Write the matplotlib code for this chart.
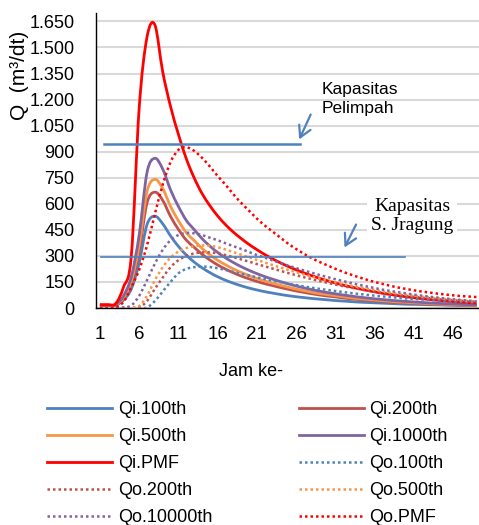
import matplotlib
matplotlib.use('Agg')
import matplotlib.pyplot as plt
from matplotlib.path import Path
from matplotlib.patches import PathPatch
from matplotlib.lines import Line2D
from matplotlib.ticker import FuncFormatter

plt.rcParams['font.family'] = ['Liberation Sans', 'DejaVu Sans']

# hours 1..49
jam = list(range(1, 50))

qi_100 = [15, 15, 16, 45, 110, 260, 480, 529, 485, 415, 355, 305, 265, 232, 204, 180, 160, 143,
          128, 115, 104, 94, 86, 78, 71, 65, 60, 55, 51, 47, 43, 40, 37, 34, 32, 30, 28, 26, 24,
          22, 21, 20, 19, 18, 17, 16, 15, 14, 13]
qi_200 = [15, 15, 17, 55, 140, 325, 605, 667, 620, 527, 453, 391, 350, 310, 277, 248, 224, 203,
          184, 168, 153, 140, 129, 118, 108, 98, 90, 82, 75, 69, 64, 58, 53, 49, 45, 41, 38, 35,
          32, 29, 27, 25, 22, 21, 19, 18, 16, 15, 14]
qi_500 = [15, 15, 18, 60, 155, 360, 670, 741, 688, 585, 503, 434, 389, 344, 307, 275, 249, 225,
          205, 187, 170, 156, 143, 131, 120, 109, 100, 91, 83, 77, 71, 65, 59, 54, 50, 46, 42, 39,
          35, 33, 30, 28, 25, 23, 22, 20, 18, 16, 15]
qi_1000 = [15, 15, 20, 70, 180, 420, 780, 862, 800, 680, 585, 505, 452, 400, 357, 320, 289, 262,
           238, 217, 198, 181, 166, 152, 139, 127, 116, 106, 97, 89, 82, 75, 69, 63, 58, 53, 49,
           45, 41, 38, 35, 32, 29, 27, 25, 23, 21, 19, 18]
qi_pmf = [20, 20, 25, 120, 300, 1150, 1560, 1630, 1360, 1160, 1000, 860, 750, 660, 590, 530, 480,
          437, 400, 366, 336, 308, 283, 260, 239, 220, 202, 186, 171, 157, 144, 132, 121, 111, 102,
          93, 85, 78, 71, 65, 59, 54, 49, 45, 41, 37, 34, 31, 28]

qo_100 = [0, 0, 0, 0, 0, 0, 3, 40, 95, 150, 200, 225, 235, 238, 236, 229, 219, 208, 197, 187,
          177, 167, 158, 149, 140, 132, 124, 117, 110, 104, 98, 92, 86, 81, 76, 71, 67, 63, 59,
          55, 52, 49, 46, 43, 40, 38, 35, 33, 31]
qo_200 = [0, 0, 0, 0, 0, 3, 40, 110, 175, 235, 275, 300, 314, 320, 320, 315, 305, 293, 280, 267,
          253, 240, 227, 214, 201, 189, 177, 166, 155, 145, 135, 126, 117, 109, 101, 94, 87, 81,
          75, 70, 65, 60, 56, 52, 48, 45, 42, 39, 36]
qo_500 = [0, 0, 0, 0, 3, 12, 70, 160, 235, 290, 325, 345, 355, 360, 358, 350, 337, 322, 307,
          292, 277, 262, 247, 233, 219, 206, 193, 181, 170, 159, 148, 138, 129, 120, 112, 104, 96,
          89, 83, 77, 71, 66, 61, 56, 52, 48, 44, 41, 38]
qo_1000 = [0, 0, 0, 3, 15, 70, 160, 255, 335, 390, 420, 432, 430, 420, 405, 390, 373, 356, 340,
           322, 305, 290, 274, 259, 244, 230, 216, 203, 190, 178, 166, 155, 144, 134, 124, 115,
           106, 98, 91, 84, 77, 71, 65, 60, 55, 50, 46, 42, 38]
qo_pmf = [0, 0, 5, 35, 120, 220, 360, 540, 710, 840, 910, 925, 905, 865, 815, 760, 710, 655, 605,
          560, 515, 475, 440, 405, 370, 340, 312, 287, 265, 245, 226, 208, 192, 177, 163, 150,
          139, 128, 118, 110, 102, 95, 89, 83, 78, 73, 69, 66, 63]

kap_pelimpah = 945
kap_jragung = 292

blue, brown, orange, purple, red = '#4F81BD', '#C0504D', '#F79646', '#8064A2', '#FF0000'


def smooth_path(x, y):
    # Excel-style "smoothed line": cubic bezier between the data points
    n = len(x)
    verts = [(x[0], y[0])]
    codes = [Path.MOVETO]
    for i in range(n - 1):
        i0, i3 = max(i - 1, 0), min(i + 2, n - 1)
        c1 = (x[i] + (x[i + 1] - x[i0]) / 6, y[i] + (y[i + 1] - y[i0]) / 6)
        c2 = (x[i + 1] - (x[i3] - x[i]) / 6, y[i + 1] - (y[i3] - y[i]) / 6)
        verts += [c1, c2, (x[i + 1], y[i + 1])]
        codes += [Path.CURVE4] * 3
    return Path(verts, codes)


fig = plt.figure(figsize=(4.79, 5.25), dpi=100)
ax = fig.add_axes([0.2004, 0.4133, 0.7996, 0.5625])

series = [('Qi.100th', qi_100, blue, '-'), ('Qi.200th', qi_200, brown, '-'),
          ('Qi.500th', qi_500, orange, '-'), ('Qi.1000th', qi_1000, purple, '-'),
          ('Qi.PMF', qi_pmf, red, '-'),
          ('Qo.100th', qo_100, blue, ':'), ('Qo.200th', qo_200, brown, ':'),
          ('Qo.500th', qo_500, orange, ':'), ('Qo.10000th', qo_1000, purple, ':'),
          ('Qo.PMF', qo_pmf, red, ':')]

handles = {}
for name, vals, c, ls in series:
    if ls == '-':
        style = dict(lw=2.0, linestyle='-')
    else:
        style = dict(lw=1.8, linestyle=(0, (1, 1.2)))
    ax.add_patch(PathPatch(smooth_path(jam, vals), fill=False, edgecolor=c,
                           joinstyle='round', zorder=3, **style))
    handles[name] = Line2D([], [], color=c, **style)

# capacity lines
ax.plot([1.55, 26.5], [kap_pelimpah, kap_pelimpah], color=blue, lw=1.8, zorder=4)
ax.plot([1.1, 39.9], [kap_jragung, kap_jragung], color=blue, lw=1.2, zorder=4)

arrow = dict(arrowstyle='->,head_length=0.8,head_width=0.45', color=blue, lw=1.6)
ax.annotate('', xy=(26.25, 956), xytext=(28.0, 1128), arrowprops=arrow, zorder=5)
ax.annotate('', xy=(32.0, 334), xytext=(33.8, 495), arrowprops=arrow, zorder=5)

ax.text(29.3, 1300, 'Kapasitas\nPelimpah', fontsize=12.5, va='top', ha='left',
        linespacing=1.3, zorder=5)
ax.text(40.8, 632, 'Kapasitas\nS. Jragung', fontsize=14, va='top', ha='center',
        family=['Liberation Serif', 'DejaVu Serif'], linespacing=1.15, zorder=5,
        bbox=dict(facecolor='white', edgecolor='none', pad=3))

ax.set_xlim(0.5, 49.3)
ax.set_ylim(0, 1700)
ax.set_yticks(range(0, 1651, 150))
ax.yaxis.set_major_formatter(FuncFormatter(lambda v, p: f"{v:,.0f}".replace(',', '.')))
ax.set_xticks(range(1, 50, 5))
ax.tick_params(axis='y', length=0, labelsize=13, pad=15.5)
ax.tick_params(axis='x', length=0, labelsize=13.5, pad=13)
ax.grid(axis='y', color='#D9D9D9', lw=1.5, zorder=0)
ax.set_axisbelow(True)
for s in ['top', 'right']:
    ax.spines[s].set_visible(False)
for s in ['left', 'bottom']:
    ax.spines[s].set_linewidth(1.0)

fig.text(20 / 479, 1 - 75 / 525, 'Q  (m³/dt)', rotation=90, fontsize=15, ha='center', va='center')
fig.text(251 / 479, 1 - 372 / 525, 'Jam ke-', fontsize=13, ha='center', va='center')

order = ['Qi.100th', 'Qi.500th', 'Qi.PMF', 'Qo.200th', 'Qo.10000th',
         'Qi.200th', 'Qi.1000th', 'Qo.100th', 'Qo.500th', 'Qo.PMF']
fig.legend([handles[n] for n in order], order, ncol=2, loc='upper left',
           bbox_to_anchor=(31 / 479, 1 - 385 / 525), frameon=False, fontsize=13,
           handlelength=3.6, handletextpad=0.3, columnspacing=4.8, labelspacing=0.55)

fig.savefig('out.png', dpi=100)
